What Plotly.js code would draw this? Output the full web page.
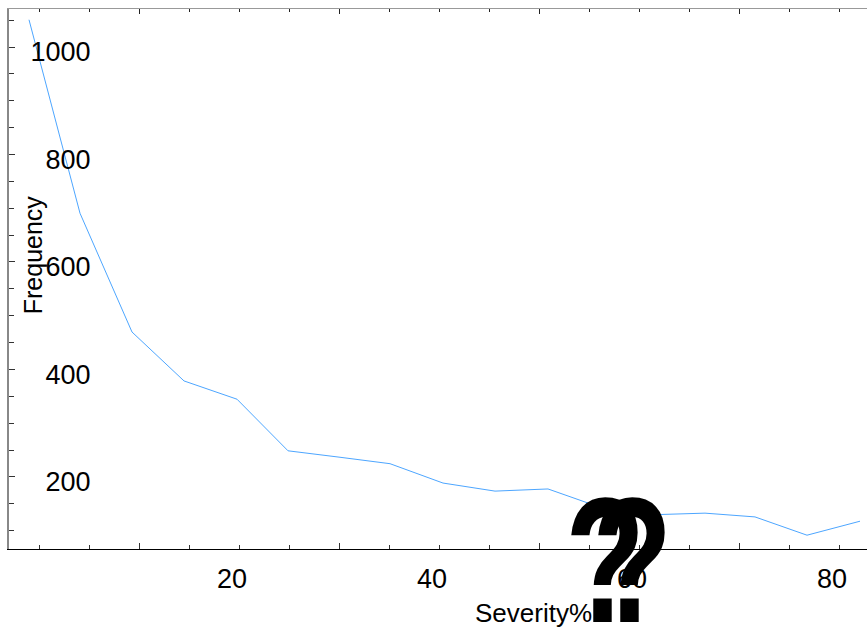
<!DOCTYPE html>
<html>
<head>
<meta charset="utf-8">
<script src="https://cdn.plot.ly/plotly-3.0.1.min.js"></script>
<style>html,body{margin:0;padding:0;background:#fff;}#chart{width:867px;height:628px;}</style>
</head>
<body>
<div id="chart"></div>
<script>
// Data
const severity = [-0.3, 4.8, 10.0, 15.2, 20.5, 25.6, 30.8, 35.8, 41.1, 46.3, 51.6, 56.8, 62.0, 67.3, 72.3, 77.5, 82.8];
const frequency = [1060, 700, 479, 388, 354, 258, 246, 234, 198, 183, 187, 153, 139, 142, 135, 101, 127];
const xTickVals = [20, 40, 60, 80];
const xTickText = ["20", "40", "60", "80"];
const yTickVals = [200, 400, 600, 800, 1000];
const yTickText = ["200", "400", "600", "800", "1000"];
const xTitle = "Severity%";
const yTitle = "Frequency";
const marks = ["?", "?"];

const xRange = [-2.3, 83.5];
const yRange = [75.3, 1080];
const labelFont = {family: "Liberation Sans, Arial, sans-serif", size: 27, color: "#000"};

const trace = {
  x: severity, y: frequency, type: "scatter", mode: "lines",
  line: {color: "#4da6ff", width: 1}, xaxis: "x", yaxis: "y", hoverinfo: "skip"
};

const layout = {
  width: 867, height: 628,
  margin: {l: 9, r: 0, t: 9, b: 79, pad: 0},
  paper_bgcolor: "#fff", plot_bgcolor: "#fff",
  showlegend: false,
  xaxis: {
    range: xRange, showgrid: false, zeroline: false,
    showline: true, linecolor: "#000", linewidth: 1,
    ticks: "inside", tickmode: "linear", tick0: 10.7, dtick: 20, ticklen: 6, tickcolor: "#333", tickwidth: 1,
    minor: {ticks: "inside", tick0: 0.7, dtick: 5, ticklen: 4, tickcolor: "#333", tickwidth: 1},
    showticklabels: false, fixedrange: true
  },
  xaxis2: {
    overlaying: "x", side: "top", anchor: "y",
    range: xRange, showgrid: false, zeroline: false,
    showline: true, linecolor: "#999", linewidth: 1,
    ticks: "inside", tickmode: "linear", tick0: 10.7, dtick: 20, ticklen: 5, tickcolor: "#222", tickwidth: 1,
    minor: {ticks: "inside", tick0: 0.7, dtick: 5, ticklen: 3, tickcolor: "#222", tickwidth: 1},
    showticklabels: false, fixedrange: true
  },
  xaxis3: {
    overlaying: "x", side: "bottom", anchor: "y",
    range: xRange, showgrid: false, zeroline: false, showline: false, ticks: "",
    tickmode: "array", tickvals: xTickVals, ticktext: xTickText,
    tickfont: labelFont, ticklabelstandoff: 11, fixedrange: true
  },
  yaxis: {
    range: yRange, showgrid: false, zeroline: false,
    showline: true, linecolor: "#888", linewidth: 2,
    ticks: "inside", tickmode: "linear", tick0: 209.3, dtick: 200, ticklen: 6, tickcolor: "#333", tickwidth: 1,
    minor: {ticks: "inside", tick0: 9.3, dtick: 50, ticklen: 5, tickcolor: "#333", tickwidth: 1},
    showticklabels: false, fixedrange: true
  },
  yaxis2: {
    overlaying: "y", side: "left", anchor: "free", position: 0.095,
    range: yRange, showgrid: false, zeroline: false, showline: false, ticks: "",
    tickmode: "array", tickvals: yTickVals, ticktext: yTickText,
    tickfont: labelFont, fixedrange: true
  },
  annotations: [
    {text: yTitle, xref: "paper", yref: "paper", x: 0.028, y: 0.544, xanchor: "center", yanchor: "middle",
     textangle: -90, showarrow: false, font: {family: "Liberation Sans, Arial, sans-serif", size: 25, color: "#000"}},
    {text: xTitle, xref: "paper", yref: "paper", x: 0.611, y: -0.118, xanchor: "center", yanchor: "middle",
     showarrow: false, font: {family: "Liberation Sans, Arial, sans-serif", size: 26, color: "#000"}},
    {text: marks[0], xref: "paper", yref: "paper", x: 0.695, y: -0.022, xanchor: "center", yanchor: "middle",
     showarrow: false, font: {family: "Liberation Sans, Arial, sans-serif", size: 178, color: "#000", weight: "bold"}},
    {text: marks[1], xref: "paper", yref: "paper", x: 0.727, y: -0.022, xanchor: "center", yanchor: "middle",
     showarrow: false, font: {family: "Liberation Sans, Arial, sans-serif", size: 178, color: "#000", weight: "bold"}}
  ]
};

const dummyX = {x: [null], y: [null], xaxis: "x2", yaxis: "y", type: "scatter", mode: "lines", hoverinfo: "skip"};
const dummyX3 = {x: [null], y: [null], xaxis: "x3", yaxis: "y", type: "scatter", mode: "lines", hoverinfo: "skip"};
const dummyY = {x: [null], y: [null], xaxis: "x", yaxis: "y2", type: "scatter", mode: "lines", hoverinfo: "skip"};

Plotly.newPlot("chart", [trace, dummyX, dummyX3, dummyY], layout, {staticPlot: true, displayModeBar: false}).then(function () {
  // narrow the tall question marks horizontally, as in the reference
  document.querySelectorAll("#chart .annotation-text").forEach(function (t) {
    if (t.textContent === "?") {
      t.setAttribute("textLength", "80");
      t.setAttribute("lengthAdjust", "spacingAndGlyphs");
    }
  });
});
</script>
</body>
</html>
